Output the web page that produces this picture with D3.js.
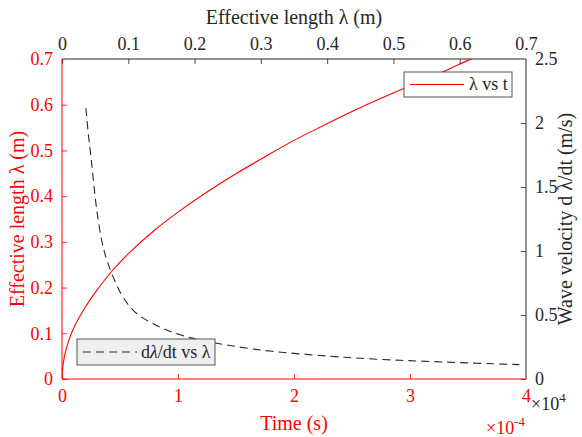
<!DOCTYPE html>
<html>
<head>
<meta charset="utf-8">
<script src="https://cdn.jsdelivr.net/npm/d3@7"></script>
</head>
<body style="margin:0;background:#fff">
<div id="chart"></div>
<script>
// lambda vs time (time in units of 1e4 s)
var timeVals = [0, 0.005, 0.02, 0.05, 0.1, 0.2, 0.3, 0.44, 0.6, 0.8, 1.0, 1.25, 1.5, 1.75, 2.0, 2.25, 2.5, 2.75, 3.0, 3.25, 3.5, 3.6];
var lambdaVals = [0, 0.022, 0.048, 0.078, 0.111, 0.157, 0.194, 0.239, 0.281, 0.326, 0.365, 0.409, 0.449, 0.486, 0.522, 0.554, 0.585, 0.614, 0.641, 0.668, 0.697, 0.707];

// wave velocity vs lambda (velocity in units of 1e-4 m/s)
var lamVals = [0.036, 0.040, 0.044, 0.048, 0.053, 0.060, 0.067, 0.077, 0.092, 0.113, 0.148, 0.178, 0.208, 0.248, 0.299, 0.35, 0.404, 0.45, 0.51, 0.56, 0.60, 0.65, 0.69];
var velVals = [2.115, 1.90, 1.72, 1.52, 1.30, 1.08, 0.94, 0.80, 0.64, 0.51, 0.405, 0.345, 0.305, 0.266, 0.227, 0.200, 0.178, 0.162, 0.146, 0.136, 0.128, 0.119, 0.112];

var bottomTicks = [0, 1, 2, 3, 4];
var topTicks = [0, 0.1, 0.2, 0.3, 0.4, 0.5, 0.6, 0.7];
var leftTicks = [0, 0.1, 0.2, 0.3, 0.4, 0.5, 0.6, 0.7];
var rightTicks = [0, 0.5, 1, 1.5, 2, 2.5];

var W = 582, H = 437;
var margin = { top: 59, right: 56, bottom: 58, left: 62 };
var width = W - margin.left - margin.right;
var height = H - margin.top - margin.bottom;
var red = "#ff0000", gray = "#262626";

var root = d3.select("#chart").append("svg")
    .attr("width", W).attr("height", H);
var svg = root.append("g")
    .attr("transform", "translate(" + margin.left + "," + margin.top + ")");

var xTime = d3.scaleLinear().domain([0, 4]).range([0, width]);
var xLam = d3.scaleLinear().domain([0, 0.7]).range([0, width]);
var yLam = d3.scaleLinear().domain([0, 0.7]).range([height, 0]);
var yVel = d3.scaleLinear().domain([0, 2.5]).range([height, 0]);

function fmt(d) { return d3.format("~g")(d); }

// axes with inward ticks
var gTop = svg.append("g")
    .call(d3.axisTop(xLam).tickValues(topTicks).tickSize(-5).tickPadding(9).tickFormat(fmt));
var gRight = svg.append("g")
    .attr("transform", "translate(" + width + ",0)")
    .call(d3.axisRight(yVel).tickValues(rightTicks).tickSize(-5).tickPadding(9).tickFormat(fmt));
var gBottom = svg.append("g")
    .attr("transform", "translate(0," + height + ")")
    .call(d3.axisBottom(xTime).tickValues(bottomTicks).tickSize(-5).tickPadding(10).tickFormat(fmt));
var gLeft = svg.append("g")
    .call(d3.axisLeft(yLam).tickValues(leftTicks).tickSize(-5).tickPadding(9).tickFormat(fmt));

[[gTop, gray], [gRight, gray], [gBottom, red], [gLeft, red]].forEach(function(p) {
  p[0].selectAll("path").attr("stroke", p[1]).attr("stroke-width", 1);
  p[0].selectAll("line").attr("stroke", p[1]).attr("stroke-width", 0.8);
  p[0].selectAll("text").attr("fill", p[1]).attr("font-size", 18);
  p[0].selectAll(".tick:first-child line, .tick:last-child line").remove();
});
gLeft.selectAll("path").attr("d", "M0," + height + "V0");
gBottom.selectAll("path").attr("d", "M0,0H" + width);
gTop.selectAll("path").attr("d", "M0,0H" + width);
gRight.selectAll("path").attr("d", "M0,0V" + height);

// clip
svg.append("clipPath").attr("id", "clip")
  .append("rect").attr("width", width).attr("height", height);

// lambda vs t
var redLine = d3.line()
    .x(function(d, i) { return xTime(timeVals[i]); })
    .y(function(d) { return yLam(d); })
    .curve(d3.curveCatmullRom.alpha(0.5));
svg.append("path")
    .datum(lambdaVals)
    .attr("clip-path", "url(#clip)")
    .attr("fill", "none")
    .attr("stroke", red)
    .attr("stroke-width", 1.1)
    .attr("d", redLine);

// dlambda/dt vs lambda
var dashLine = d3.line()
    .x(function(d, i) { return xLam(lamVals[i]); })
    .y(function(d) { return yVel(d); })
    .curve(d3.curveCatmullRom.alpha(0.5));
svg.append("path")
    .datum(velVals)
    .attr("fill", "none")
    .attr("stroke", gray)
    .attr("stroke-width", 1.1)
    .attr("stroke-dasharray", "8,5")
    .attr("d", dashLine);

// axis titles
function label(txt, x, y, col, rot) {
  var t = root.append("text")
      .attr("text-anchor", "middle").attr("fill", col)
      .attr("font-size", 20)
      .text(txt);
  if (rot) t.attr("transform", "translate(" + x + "," + y + ") rotate(-90)");
  else t.attr("x", x).attr("y", y);
  return t;
}
label("Effective length \u03bb (m)", margin.left + width / 2, 24, gray);
label("Time (s)", margin.left + width / 2, 430, red);
label("Effective length  \u03bb (m)", 24, margin.top + height / 2, red, true);
label("Wave velocity d \u03bb/dt (m/s)", 572, margin.top + height / 2, gray, true);

// exponent labels
var e1 = root.append("text")
    .attr("x", 531).attr("y", 410).attr("fill", gray)
    .attr("font-size", 18);
e1.append("tspan").text("\u00d710");
e1.append("tspan").attr("dy", -8).attr("font-size", 13).text("4");
var e2 = root.append("text")
    .attr("x", 486).attr("y", 434).attr("fill", red)
    .attr("font-size", 18);
e2.append("tspan").text("\u00d710");
e2.append("tspan").attr("dy", -8).attr("font-size", 13).text("-4");

// legend 1
var l1 = root.append("g").attr("transform", "translate(404,72)");
l1.append("rect").attr("width", 108).attr("height", 25)
    .attr("fill", "#fff").attr("stroke", "#555").attr("stroke-width", 1);
l1.append("line").attr("x1", 6).attr("x2", 60).attr("y1", 12.5).attr("y2", 12.5)
    .attr("stroke", red).attr("stroke-width", 1.1);
l1.append("text").attr("x", 65).attr("y", 18).attr("fill", gray)
    .attr("font-size", 18).text("\u03bb vs t");

// legend 2
var l2 = root.append("g").attr("transform", "translate(77,339)");
l2.append("rect").attr("width", 138).attr("height", 26)
    .attr("fill", "#efefef").attr("stroke", "#555").attr("stroke-width", 1);
l2.append("line").attr("x1", 6).attr("x2", 60).attr("y1", 13).attr("y2", 13)
    .attr("stroke", gray).attr("stroke-width", 1.1).attr("stroke-dasharray", "8,5");
var t2 = l2.append("text").attr("x", 64).attr("y", 19).attr("fill", gray)
    .attr("font-size", 18);
t2.append("tspan").text("d");
t2.append("tspan").attr("font-style", "italic").text("\u03bb");
t2.append("tspan").text("/dt vs  \u03bb");

// one font for every text
root.selectAll("g").attr("font-family", null);
root.selectAll("text")
    .attr("font-family", "Liberation Serif")
    .style("font-family", "Liberation Serif");
</script>
</body>
</html>
